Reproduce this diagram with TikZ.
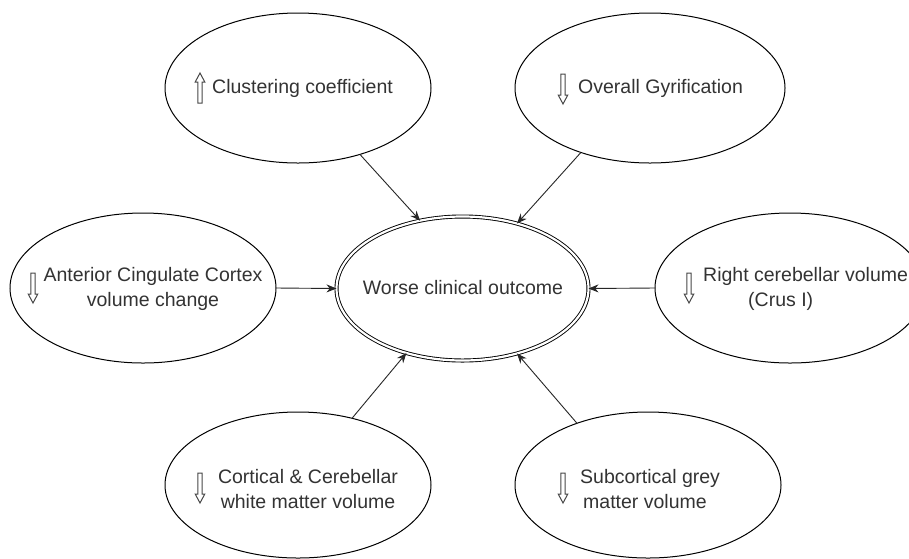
\documentclass[tikz,border=0pt]{standalone}
\usepackage{fontspec}
\setmainfont{Liberation Sans}
\usetikzlibrary{shapes.geometric,arrows.meta}
\definecolor{txt}{HTML}{333333}
\tikzset{
  bub/.style={ellipse, draw=black, line width=1pt, inner sep=0pt, outer sep=0pt, fill=white},
  lbl/.style={text=txt, font=\fontsize{19.5}{25}\selectfont, inner sep=0pt},
  conn/.style={draw=black!85, line width=0.9pt, -{Stealth[length=10pt,width=8pt]}},
  glyph/.style={draw=txt!90, line width=1pt, fill=white, line join=miter},
  uparr/.pic={\path[glyph] (0,-15) -- (4.8,-6) -- (2.2,-6) -- (2.2,15) -- (-2.2,15) -- (-2.2,-6) -- (-4.8,-6) -- cycle;},
  downarr/.pic={\path[glyph] (0,15) -- (4.8,6) -- (2.2,6) -- (2.2,-15) -- (-2.2,-15) -- (-2.2,6) -- (-4.8,6) -- cycle;}
}
\begin{document}
\begin{tikzpicture}[x=1pt,y=-1pt]
\useasboundingbox (0,0) rectangle (909,558);
\clip (0,0) rectangle (909,558);
\fill[white] (0,0) rectangle (909,558);
% ellipses
\node[bub, minimum width=266pt, minimum height=150pt] (clust) at (298,88) {};
\node[bub, minimum width=270pt, minimum height=150pt] (gyr) at (650,88) {};
\node[bub, minimum width=266pt, minimum height=150pt] (acc) at (143,288) {};
\node[bub, minimum width=252pt, minimum height=144pt, double, double distance=2.2pt, line width=0.9pt] (out) at (462.5,288.5) {};
\node[bub, minimum width=270pt, minimum height=150pt] (rcv) at (790,288) {};
\node[bub, minimum width=266pt, minimum height=146pt] (cwm) at (298,485) {};
\node[bub, minimum width=266pt, minimum height=146pt] (sgm) at (648,485) {};
% connectors
\draw[conn] (clust.-47.3) -- (out.122.9);
\draw[conn] (gyr.-137.5) -- (out.50);
\draw[conn] (acc.east) -- (out.west);
\draw[conn] (rcv.west) -- (out.east);
\draw[conn] (cwm.51.8) -- (out.-131.3);
\draw[conn] (sgm.139.8) -- (out.-50.2);
% labels
\node[lbl, anchor=west] (tclust) at (212,88) {Clustering coefficient};
\node[lbl, anchor=west] (tgyr) at (578,88) {Overall Gyrification};
\node[lbl, align=center] (tacc) at (153,289) {Anterior Cingulate Cortex\\volume change};
\node[lbl] (tout) at (463,288) {Worse clinical outcome};
\node[lbl, align=left, anchor=west] (trcv) at (703,289) {Right cerebellar volume\\\hspace*{45pt}(Crus I)};
\node[lbl, align=center] (tcwm) at (308,489) {Cortical \& Cerebellar\\white matter volume};
\node[lbl, align=left, anchor=west] (tsgm) at (580,489) {Subcortical grey\\\hspace*{3pt}matter volume};
% arrow glyphs
\pic at (200,88) {uparr};
\pic at (563,89) {downarr};
\pic at (33,288) {downarr};
\pic at (689,288) {downarr};
\pic at (200,488) {downarr};
\pic at (563,488) {downarr};
\end{tikzpicture}
\end{document}
